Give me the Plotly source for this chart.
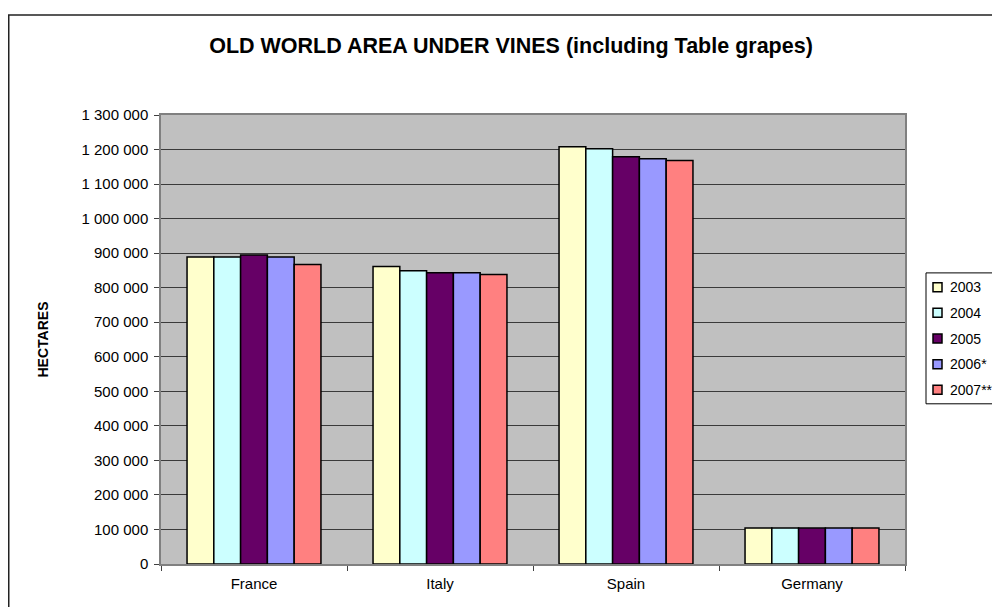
import plotly.graph_objects as go

# Area under vines, hectares
countries = ["France", "Italy", "Spain", "Germany"]
years = ["2003", "2004", "2005", "2006*", "2007**"]
area_2003 = [889000, 861000, 1208000, 104000]
area_2004 = [889000, 849000, 1202000, 104000]
area_2005 = [895000, 843000, 1179000, 104000]
area_2006 = [889000, 843000, 1173000, 104000]
area_2007 = [867000, 838000, 1168000, 104000]
series = [area_2003, area_2004, area_2005, area_2006, area_2007]
colors = ["#FFFFCC", "#CCFFFF", "#660066", "#9999FF", "#FF8080"]
y_ticks = list(range(0, 1300001, 100000))

FONT = "Liberation Sans, Arial, sans-serif"

# page body has an 8px margin, so the figure is shifted down/right by that much;
# keep the figure inside the window so no scrollbars show up
OFF = 8
W, H = 1000 - 2 * OFF, 615 - 2 * OFF
PL, PR, PT, PB = 161 - OFF, 905 - OFF, 115 - OFF, 564.3 - OFF   # plot area in figure px
PW, PH = PR - PL, PB - PT


def px_x(x):
    # page pixel -> paper fraction
    return (x - OFF - PL) / PW


def px_y(y):
    return (PB - (y - OFF)) / PH


fig = go.Figure()
for name, values, color in zip(years, series, colors):
    fig.add_trace(go.Bar(
        x=countries, y=values, name=name, showlegend=False,
        marker=dict(color=color, line=dict(color="#000000", width=1.5)),
    ))

fig.update_layout(
    width=W, height=H,
    margin=dict(l=PL, r=W - PR, t=PT, b=H - PB, autoexpand=False),
    paper_bgcolor="white",
    plot_bgcolor="#C0C0C0",
    separators=". ",
    barmode="group",
    bargap=0.28,
    bargroupgap=0,
    font=dict(family=FONT, size=15, color="black"),
    title=dict(
        text="<b>OLD WORLD AREA UNDER VINES (including Table grapes)</b>",
        x=px_x(511), xref="paper", xanchor="center",
        y=1 - (45.5 - OFF) / H, yanchor="middle",
        font=dict(size=21.5, family=FONT),
    ),
    xaxis=dict(
        showline=True, linecolor="#808080", linewidth=1.5,
        ticks="outside", tickson="boundaries", ticklen=5, tickcolor="#404040",
        showgrid=False, mirror=True,
        tickfont=dict(size=15),
        ticklabelstandoff=5,
    ),
    yaxis=dict(
        range=[0, 1300000], tickvals=y_ticks, tickformat=",d",
        showline=True, linecolor="#808080", linewidth=1.5, mirror=True,
        ticks="outside", ticklen=5, tickcolor="#404040",
        showgrid=True, gridcolor="#3a3a3a", gridwidth=1,
        zeroline=False,
        tickfont=dict(size=15),
        ticklabelstandoff=3,
        title=dict(text="<b>HECTARES</b>", font=dict(size=14), standoff=30),
    ),
)

# outer chart border (left edge as close to the page edge as the figure allows)
fig.add_shape(
    type="rect", xref="paper", yref="paper",
    x0=px_x(OFF + 0.75), x1=px_x(1030),
    y0=px_y(640), y1=px_y(15),
    line=dict(color="#222222", width=1.5), fillcolor="rgba(0,0,0,0)",
    layer="below",
)

# legend box, drawn by hand so it can run off the right edge like the original
fig.add_shape(
    type="rect", xref="paper", yref="paper",
    x0=px_x(926), x1=px_x(1030), y0=px_y(404), y1=px_y(273),
    line=dict(color="black", width=1), fillcolor="white",
)
row_y = [287.3, 313, 338.7, 364.3, 390]
for name, color, yc in zip(years, colors, row_y):
    fig.add_shape(
        type="rect", xref="paper", yref="paper",
        x0=px_x(933), x1=px_x(942), y0=px_y(yc + 4.5), y1=px_y(yc - 4.5),
        line=dict(color="black", width=1.5), fillcolor=color,
    )
    fig.add_annotation(
        xref="paper", yref="paper", x=px_x(948), y=px_y(yc),
        text=name, showarrow=False, xanchor="left", yanchor="middle",
        font=dict(size=14, family=FONT),
    )

fig.write_html("out.html")
